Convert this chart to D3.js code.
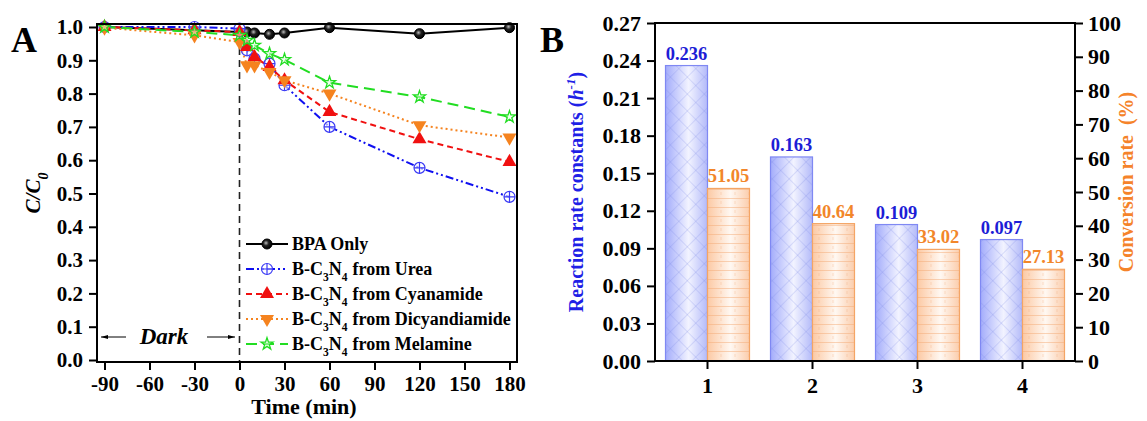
<!DOCTYPE html>
<html>
<head>
<meta charset="utf-8">
<script src="https://cdn.jsdelivr.net/npm/d3@7"></script>
<style>
  body { margin: 0; background: #fff; }
  svg { display: block; font-family: "Liberation Serif", "Times New Roman", serif; font-weight: bold; }
  .axis path, .axis line { stroke: #000; stroke-width: 2; }
  .axis text { fill: #000; }
</style>
</head>
<body>
<svg id="chart" width="1147" height="421"></svg>
<script>
// panel A: BPA removal (C/C0) vs time
const timeMin = [-90, -30, 0, 5, 10, 20, 30, 60, 120, 180];
const bpaOnly = [1.0, 0.99, 0.985, 0.985, 0.982, 0.978, 0.982, 0.998, 0.98, 0.998];
const fromUrea = [1.0, 1.0, 0.995, 0.93, 0.905, 0.89, 0.825, 0.70, 0.577, 0.49];
const fromCyanamide = [1.0, 0.99, 0.985, 0.94, 0.91, 0.88, 0.84, 0.745, 0.663, 0.595];
const fromDicyandiamide = [0.998, 0.975, 0.955, 0.885, 0.885, 0.865, 0.84, 0.80, 0.705, 0.668];
const fromMelamine = [1.0, 0.985, 0.975, 0.96, 0.945, 0.92, 0.902, 0.833, 0.79, 0.73];
const timeTicks = [-90, -60, -30, 0, 30, 60, 90, 120, 150, 180];
const ratioTicks = [0, 0.1, 0.2, 0.3, 0.4, 0.5, 0.6, 0.7, 0.8, 0.9, 1.0];

// panel B: rate constants and conversion
const samples = ["1", "2", "3", "4"];
const rateConstants = [0.236, 0.163, 0.109, 0.097];
const conversionRates = [51.05, 40.64, 33.02, 27.13];
const rateTicks = [0, 0.03, 0.06, 0.09, 0.12, 0.15, 0.18, 0.21, 0.24, 0.27];
const convTicks = [0, 10, 20, 30, 40, 50, 60, 70, 80, 90, 100];

const FONT = '"Liberation Serif", "Times New Roman", serif';
const svg = d3.select("#chart");
const defs = svg.append("defs");

// d3 axes put sans-serif on their group, so restyle afterwards
function styleAxis(a, size) {
  a.attr("font-family", FONT).attr("font-weight", "bold");
  a.select(".domain").remove();
  a.selectAll("text").attr("font-size", size).attr("font-family", FONT);
}

function drawRemovalPanel() {
  const x = d3.scaleLinear().domain([-95, 185]).range([97, 517]);
  const y = d3.scaleLinear().domain([-0.006, 1.009]).range([362, 24]);
  const g = svg.append("g");

  const series = [
    { name: "BPA Only", values: bpaOnly, color: "#000", dash: null, marker: "ball" },
    { name: "Urea", values: fromUrea, color: "#1010f0", dash: "8,3,2,3,2,3", marker: "oplus" },
    { name: "Cyanamide", values: fromCyanamide, color: "#f01010", dash: "6,4", marker: "up" },
    { name: "Dicyandiamide", values: fromDicyandiamide, color: "#f5831f", dash: "2,3", marker: "down" },
    { name: "Melamine", values: fromMelamine, color: "#22dd22", dash: "11,6", marker: "star" },
  ];

  const ballGrad = defs.append("radialGradient").attr("id", "ball")
    .attr("cx", "40%").attr("cy", "40%").attr("r", "60%");
  ballGrad.append("stop").attr("offset", "0%").attr("stop-color", "#bbb");
  ballGrad.append("stop").attr("offset", "45%").attr("stop-color", "#222");
  ballGrad.append("stop").attr("offset", "100%").attr("stop-color", "#000");

  function marker(sel, s) {
    if (s.marker === "ball") {
      sel.append("circle").attr("r", 5).attr("fill", "url(#ball)").attr("stroke", "#000").attr("stroke-width", 1);
    } else if (s.marker === "oplus") {
      sel.append("circle").attr("r", 5.5).attr("fill", "#fff").attr("fill-opacity", 0.6)
        .attr("stroke", "#3a3af5").attr("stroke-width", 1.2);
      sel.append("path").attr("d", "M-5.5,0H5.5M0,-5.5V5.5").attr("stroke", "#3a3af5").attr("stroke-width", 1.2);
    } else if (s.marker === "up") {
      sel.append("path").attr("d", d3.symbol(d3.symbolTriangle, 85)()).attr("fill", s.color);
    } else if (s.marker === "down") {
      sel.append("path").attr("d", d3.symbol(d3.symbolTriangle, 85)()).attr("transform", "rotate(180)")
        .attr("fill", s.color);
    } else {
      sel.append("path").attr("d", d3.symbol(d3.symbolStar, 45)()).attr("fill", "#dfffdf")
        .attr("fill-opacity", 0.5).attr("stroke", s.color).attr("stroke-width", 1.3);
    }
  }

  // dark / light boundary
  g.append("line").attr("x1", x(0)).attr("x2", x(0)).attr("y1", 24).attr("y2", 362)
    .attr("stroke", "#222").attr("stroke-width", 1.6).attr("stroke-dasharray", "7,5");

  const line = d3.line().x((d, i) => x(timeMin[i])).y(d => y(d));
  series.forEach(s => {
    g.append("path").attr("d", line(s.values)).attr("fill", "none")
      .attr("stroke", s.color).attr("stroke-width", 2)
      .attr("stroke-dasharray", s.dash);
  });
  series.forEach(s => {
    s.values.forEach((v, i) => {
      g.append("g").attr("transform", `translate(${x(timeMin[i])},${y(v)})`).call(marker, s);
    });
  });

  // frame + axes
  g.append("rect").attr("x", 97).attr("y", 24).attr("width", 420).attr("height", 338)
    .attr("fill", "none").attr("stroke", "#000").attr("stroke-width", 2);
  g.append("g").attr("class", "axis").attr("transform", "translate(0,362)")
    .call(d3.axisBottom(x).tickValues(timeTicks).tickFormat(d => String(d)).tickSize(8).tickSizeOuter(0).tickPadding(6))
    .call(styleAxis, 21);
  g.append("g").attr("class", "axis").attr("transform", "translate(97,0)")
    .call(d3.axisLeft(y).tickValues(ratioTicks).tickFormat(d3.format(".1f")).tickSize(8).tickSizeOuter(0).tickPadding(6))
    .call(styleAxis, 21);

  // legend
  series.forEach((s, i) => {
    const ly = 244 + i * 25;
    const row = g.append("g");
    row.append("line").attr("x1", 246).attr("x2", 288).attr("y1", ly).attr("y2", ly)
      .attr("stroke", s.color).attr("stroke-width", 2).attr("stroke-dasharray", s.dash);
    row.append("g").attr("transform", `translate(267,${ly})`).call(marker, s);
    const t = row.append("text").attr("x", 292).attr("y", ly + 6).attr("font-size", 18);
    if (i === 0) {
      t.text(s.name);
    } else {
      t.append("tspan").text("B-C");
      t.append("tspan").attr("baseline-shift", "sub").attr("font-size", 11.5).text("3");
      t.append("tspan").text("N");
      t.append("tspan").attr("baseline-shift", "sub").attr("font-size", 11.5).text("4");
      t.append("tspan").attr("dx", 5).text("from " + s.name);
    }
  });

  // dark annotation
  defs.append("marker").attr("id", "arrow").attr("viewBox", "0 0 10 10").attr("refX", 10).attr("refY", 5)
    .attr("markerWidth", 7).attr("markerHeight", 7).attr("orient", "auto")
    .append("path").attr("d", "M0,2L10,5L0,8Z").attr("fill", "#000");
  g.append("line").attr("x1", 126).attr("x2", 101).attr("y1", 337).attr("y2", 337)
    .attr("stroke", "#000").attr("stroke-width", 1).attr("marker-end", "url(#arrow)");
  g.append("line").attr("x1", 207).attr("x2", 235).attr("y1", 337).attr("y2", 337)
    .attr("stroke", "#000").attr("stroke-width", 1).attr("marker-end", "url(#arrow)");
  g.append("text").attr("x", 164).attr("y", 344).attr("text-anchor", "middle")
    .attr("font-size", 23).attr("font-style", "italic").text("Dark");

  g.append("text").attr("x", 304).attr("y", 414).attr("text-anchor", "middle")
    .attr("font-size", 22).text("Time (min)");
  const yl = g.append("text").attr("transform", "translate(40,193) rotate(-90)")
    .attr("text-anchor", "middle").attr("font-size", 21).attr("font-style", "italic");
  yl.append("tspan").text("C/C");
  yl.append("tspan").attr("baseline-shift", "sub").attr("font-size", 14).text("0");

  g.append("text").attr("x", 11).attr("y", 52).attr("font-size", 36).text("A");
}

function drawRatePanel() {
  const x = d3.scaleBand().domain(samples).range([655, 1075]).paddingInner(0.2).paddingOuter(0.1);
  const yRate = d3.scaleLinear().domain([0, 0.27]).range([361, 23]);
  const yConv = d3.scaleLinear().domain([0, 100]).range([361, 23]);
  const bw = x.bandwidth() / 2;
  const g = svg.append("g");

  const blueGrad = defs.append("linearGradient").attr("id", "blueGrad");
  blueGrad.append("stop").attr("offset", "0%").attr("stop-color", "#a3acfb");
  blueGrad.append("stop").attr("offset", "55%").attr("stop-color", "#f2f3ff");
  blueGrad.append("stop").attr("offset", "100%").attr("stop-color", "#b3baf9");
  const orangeGrad = defs.append("linearGradient").attr("id", "orangeGrad");
  orangeGrad.append("stop").attr("offset", "0%").attr("stop-color", "#fcc9a4");
  orangeGrad.append("stop").attr("offset", "55%").attr("stop-color", "#fff8f2");
  orangeGrad.append("stop").attr("offset", "100%").attr("stop-color", "#fbcdac");

  const hatch = defs.append("pattern").attr("id", "hatch").attr("patternUnits", "userSpaceOnUse")
    .attr("width", 12).attr("height", 12).attr("patternTransform", "rotate(45)");
  hatch.append("path").attr("d", "M0,0V12M0,0H12").attr("stroke", "#7d87e8")
    .attr("stroke-width", 1).attr("stroke-opacity", 0.45);
  const rows = defs.append("pattern").attr("id", "rows").attr("patternUnits", "userSpaceOnUse")
    .attr("width", 14).attr("height", 9);
  rows.append("path").attr("d", "M0,0.5H14").attr("stroke", "#f3ab78").attr("stroke-width", 1).attr("stroke-opacity", 0.5);
  rows.append("path").attr("d", "M7,3V6").attr("stroke", "#f3ab78").attr("stroke-width", 0.8).attr("stroke-opacity", 0.4);

  samples.forEach((s, i) => {
    const bx = x(s);
    const by = yRate(rateConstants[i]);
    ["url(#blueGrad)", "url(#hatch)"].forEach(f =>
      g.append("rect").attr("x", bx).attr("y", by).attr("width", bw).attr("height", 361 - by).attr("fill", f));
    g.append("rect").attr("x", bx).attr("y", by).attr("width", bw).attr("height", 361 - by)
      .attr("fill", "none").attr("stroke", "#7f88f3").attr("stroke-width", 1.2);
    g.append("text").attr("x", bx + bw / 2).attr("y", by - 6).attr("text-anchor", "middle")
      .attr("font-size", 18.5).attr("fill", "#1d1dd6").text(d3.format(".3f")(rateConstants[i]));

    const ox = bx + bw;
    const oy = yConv(conversionRates[i]);
    ["url(#orangeGrad)", "url(#rows)"].forEach(f =>
      g.append("rect").attr("x", ox).attr("y", oy).attr("width", bw).attr("height", 361 - oy).attr("fill", f));
    g.append("rect").attr("x", ox).attr("y", oy).attr("width", bw).attr("height", 361 - oy)
      .attr("fill", "none").attr("stroke", "#f4a565").attr("stroke-width", 1.2);
    g.append("text").attr("x", ox + bw / 2).attr("y", oy - 6).attr("text-anchor", "middle")
      .attr("font-size", 18.5).attr("fill", "#f2862a").text(d3.format(".2f")(conversionRates[i]));
  });

  g.append("rect").attr("x", 655).attr("y", 23).attr("width", 420).attr("height", 338)
    .attr("fill", "none").attr("stroke", "#000").attr("stroke-width", 2);
  g.append("g").attr("class", "axis").attr("transform", "translate(0,361)")
    .call(d3.axisBottom(x).tickSize(8).tickSizeOuter(0).tickPadding(8))
    .call(styleAxis, 22);
  g.append("g").attr("class", "axis").attr("transform", "translate(655,0)")
    .call(d3.axisLeft(yRate).tickValues(rateTicks).tickFormat(d3.format(".2f")).tickSize(8).tickSizeOuter(0).tickPadding(6))
    .call(styleAxis, 22);
  g.append("g").attr("class", "axis").attr("transform", "translate(1075,0)")
    .call(d3.axisRight(yConv).tickValues(convTicks).tickSize(8).tickSizeOuter(0).tickPadding(5))
    .call(styleAxis, 22);

  const yl = g.append("text").attr("transform", "translate(583,192) rotate(-90)")
    .attr("text-anchor", "middle").attr("font-size", 20).attr("fill", "#1f1fe6");
  yl.append("tspan").text("Reaction rate constants (");
  yl.append("tspan").attr("font-style", "italic").text("h");
  yl.append("tspan").attr("dy", -8).attr("font-size", 13).attr("font-style", "italic").text("-1");
  yl.append("tspan").attr("dy", 8).text(")");
  g.append("text").attr("transform", "translate(1133,182) rotate(-90)")
    .attr("text-anchor", "middle").attr("font-size", 20).attr("fill", "#f5832a")
    .attr("xml:space", "preserve").text("Conversion rate  (%)");

  g.append("text").attr("x", 540).attr("y", 52).attr("font-size", 36).text("B");
}

drawRemovalPanel();
drawRatePanel();
</script>
</body>
</html>
